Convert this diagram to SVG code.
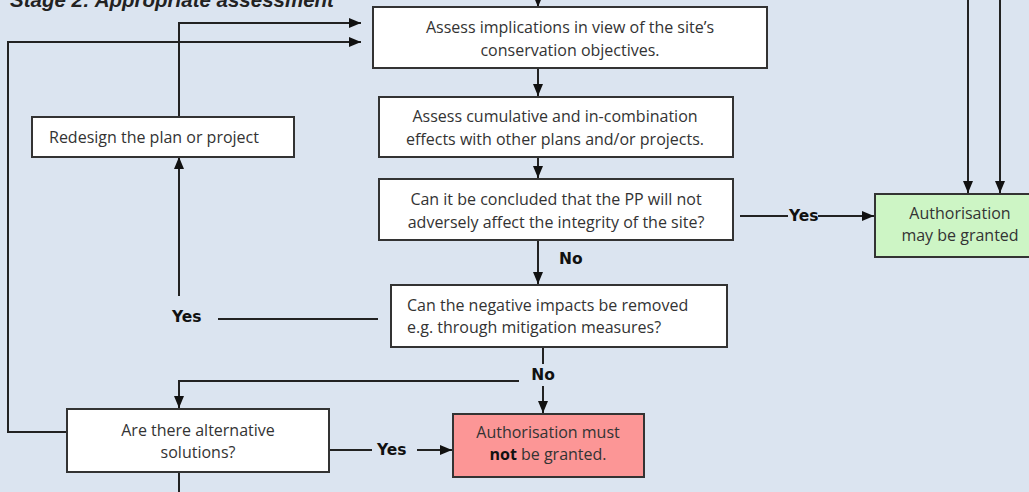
<svg xmlns="http://www.w3.org/2000/svg" width="1029" height="492" viewBox="0 0 1029 492">
<defs>
<marker id="arr" markerUnits="userSpaceOnUse" markerWidth="12" markerHeight="10" refX="12" refY="5" orient="auto">
<path d="M0,0 L12,5 L0,10 z" fill="#111"/>
</marker>
<style>
.box{fill:#fff;stroke:#333;stroke-width:2}
.t{font-family:"Open Sans","Liberation Sans",sans-serif;font-size:16px;fill:#333}
.c{text-anchor:middle}
.lbl{font-family:"DejaVu Sans","Liberation Sans",sans-serif;font-weight:bold;font-size:15.5px;fill:#111}
.ln{fill:none;stroke:#222;stroke-width:2}
.ar{marker-end:url(#arr)}
</style>
</defs>
<rect x="0" y="0" width="1029" height="492" fill="#dbe4f0"/>
<text x="10" y="7" font-family="Liberation Sans, Arial, sans-serif" font-weight="bold" font-style="italic" font-size="20.5" fill="#222">Stage 2: Appropriate assessment</text>

<g id="connectors">
<path class="ln ar" d="M538,-5 V7"/>
<path class="ln ar" d="M538,68 V96"/>
<path class="ln ar" d="M538,157 V178"/>
<path class="ln ar" d="M538,240 V284"/>
<path class="ln" d="M740,216 H788"/>
<path class="ln ar" d="M818,216 H874"/>
<path class="ln ar" d="M968,0 V193"/>
<path class="ln ar" d="M1000,0 V193"/>
<path class="ln" d="M378,319 H218"/>
<path class="ln ar" d="M179,296 V157"/>
<path class="ln ar" d="M179,117 V23 H361"/>
<path class="ln ar" d="M67,432 H8 V42 H361"/>
<path class="ln" d="M543,347 V364"/>
<path class="ln ar" d="M543,386 V413"/>
<path class="ln ar" d="M519,381 H179 V408"/>
<path class="ln" d="M329,450 H372"/>
<path class="ln ar" d="M417,450 H452"/>
<path class="ln" d="M179,472 V495"/>
<text class="lbl" x="559" y="264">No</text>
<text class="lbl" x="789" y="221">Yes</text>
<text class="lbl" x="172" y="322">Yes</text>
<text class="lbl" x="543" y="380" text-anchor="middle">No</text>
<text class="lbl" x="377" y="455">Yes</text>
</g>

<g id="n_assess_impl">
<rect class="box" x="373" y="7" width="394" height="61"/>
<text class="t c" x="570" y="33">Assess implications in view of the site’s</text>
<text class="t c" x="570" y="56">conservation objectives.</text>
</g>
<g id="n_cumulative">
<rect class="box" x="379" y="97" width="354" height="60"/>
<text class="t c" x="555" y="122">Assess cumulative and in-combination</text>
<text class="t c" x="555" y="145">effects with other plans and/or projects.</text>
</g>
<g id="n_conclude">
<rect class="box" x="379" y="179" width="354" height="61"/>
<text class="t c" x="556" y="205">Can it be concluded that the PP will not</text>
<text class="t c" x="556" y="228">adversely affect the integrity of the site?</text>
</g>
<g id="n_granted">
<rect x="875" y="194" width="160" height="63" fill="#cdf5c5" stroke="#333" stroke-width="2"/>
<text class="t c" x="960" y="219">Authorisation</text>
<text class="t c" x="960" y="241">may be granted</text>
</g>
<g id="n_redesign">
<rect class="box" x="32" y="117" width="262" height="40"/>
<text class="t" x="49" y="143">Redesign the plan or project</text>
</g>
<g id="n_mitigation">
<rect class="box" x="391" y="285" width="336" height="62"/>
<text class="t" x="407" y="311">Can the negative impacts be removed</text>
<text class="t" x="407" y="333">e.g. through mitigation measures?</text>
</g>
<g id="n_alternatives">
<rect class="box" x="67" y="409" width="262" height="63"/>
<text class="t c" x="198" y="436">Are there alternative</text>
<text class="t c" x="198" y="458">solutions?</text>
</g>
<g id="n_not_granted">
<rect x="453" y="414" width="191" height="63" fill="#fc9696" stroke="#333" stroke-width="2"/>
<text class="t c" x="548" y="438">Authorisation must</text>
<text class="t c" x="548" y="460"><tspan font-weight="bold" fill="#111">not</tspan> be granted.</text>
</g>
</svg>
